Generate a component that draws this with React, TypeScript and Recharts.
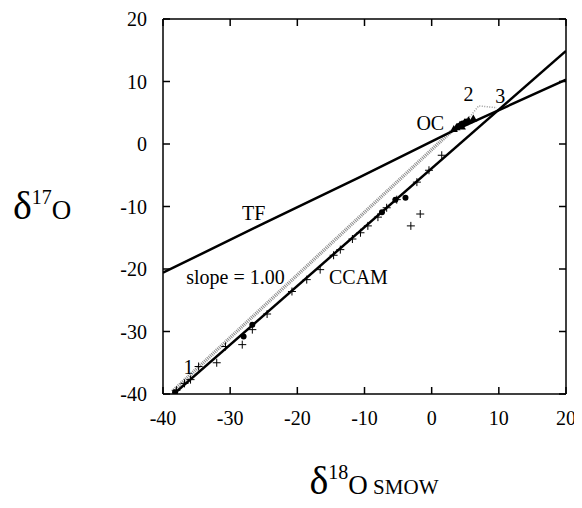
import React from 'react';
import {
  ScatterChart,
  Scatter,
  XAxis,
  YAxis,
} from 'recharts';

// axis ticks (both axes run -40..20)
const axisTicks = [-40, -30, -20, -10, 0, 10, 20];

// fitted lines
const tfLine = [
  { x: -40, y: -20.6 },
  { x: -25, y: -12.7 },
  { x: -10.7, y: -5.3 },
  { x: 2.8, y: 1.9 },
  { x: 20, y: 10.3 },
];
const ccamLine = [
  { x: -38.4, y: -40 },
  { x: 20, y: 14.9 },
];
const slopeOneLine = [
  { x: -38.6, y: -39.6 },
  { x: 3.0, y: 2.1 },
];
const dottedPath = [
  { x: 3.0, y: 2.1 },
  { x: 5.8, y: 4.5 },
  { x: 7.0, y: 6.1 },
  { x: 9.7, y: 5.8 },
];

// measured points
const plusPoints = [
  { x: -38.0, y: -39.4 },
  { x: -36.8, y: -38.3 },
  { x: -35.9, y: -37.7 },
  { x: -34.7, y: -35.6 },
  { x: -32.0, y: -35.0 },
  { x: -30.7, y: -32.4 },
  { x: -28.2, y: -32.1 },
  { x: -26.7, y: -29.7 },
  { x: -24.5, y: -27.2 },
  { x: -20.8, y: -23.6 },
  { x: -18.6, y: -21.7 },
  { x: -16.6, y: -20.1 },
  { x: -14.6, y: -17.8 },
  { x: -13.6, y: -16.9 },
  { x: -11.8, y: -15.2 },
  { x: -10.6, y: -14.2 },
  { x: -9.5, y: -13.1 },
  { x: -8.0, y: -11.7 },
  { x: -6.7, y: -10.2 },
  { x: -5.2, y: -8.9 },
  { x: -3.1, y: -13.1 },
  { x: -1.7, y: -11.2 },
  { x: -2.2, y: -6.1 },
  { x: -0.4, y: -4.2 },
  { x: 1.5, y: -1.8 },
];
const dotPoints = [
  { x: -38.2, y: -39.7 },
  { x: -28.0, y: -30.8 },
  { x: -26.7, y: -28.9 },
  { x: -7.4, y: -10.9 },
  { x: -5.4, y: -8.9 },
  { x: -3.9, y: -8.6 },
  { x: 4.0, y: 2.9 },
  { x: 4.6, y: 3.3 },
  { x: 5.2, y: 3.6 },
];
const trianglePoints = [
  { x: 3.3, y: 2.4 },
  { x: 3.7, y: 2.7 },
  { x: 4.2, y: 3.1 },
  { x: 4.5, y: 2.8 },
  { x: 4.9, y: 3.5 },
  { x: 5.5, y: 3.8 },
  { x: 6.2, y: 4.1 },
];

// text annotations placed in data space
const notes = [
  { x: -26.5, y: -11.0, text: 'TF' },
  { x: -29.2, y: -21.3, text: 'slope = 1.00' },
  { x: -10.9, y: -21.3, text: 'CCAM' },
  { x: -0.2, y: 3.4, text: 'OC' },
  { x: 5.5, y: 8.0, text: '2' },
  { x: 10.2, y: 7.7, text: '3' },
  { x: -36.2, y: -35.6, text: '1' },
];

const FONT = '"Liberation Serif", "Times New Roman", serif';
const TICK = 7;

const NoMark = () => <g />;

const PlusMark = (p: any) => (
  <path
    d={`M${p.cx - 4},${p.cy}h8M${p.cx},${p.cy - 4}v8`}
    stroke="#000"
    strokeWidth={1}
    fill="none"
  />
);

const DotMark = (p: any) => <circle cx={p.cx} cy={p.cy} r={3} fill="#000" />;

const TriMark = (p: any) => (
  <path
    d={`M${p.cx},${p.cy - 4}L${p.cx + 4},${p.cy + 3}L${p.cx - 4},${p.cy + 3}Z`}
    fill="#000"
  />
);

const NoteMark = (p: any) => (
  <text
    x={p.cx}
    y={p.cy}
    textAnchor="middle"
    dominantBaseline="central"
    fontFamily={FONT}
    fontSize={20}
    fill="#000"
  >
    {p.payload.text}
  </text>
);

// inward tick marks + labels
const BottomTick = (p: any) => {
  const axisY = p.y - 17;
  return (
    <g>
      <line x1={p.x} y1={axisY} x2={p.x} y2={axisY - TICK} stroke="#000" strokeWidth={1.5} />
      <text x={p.x} y={p.y} dy="0.72em" textAnchor="middle" fontFamily={FONT} fontSize={20} fill="#000">
        {p.payload.value}
      </text>
    </g>
  );
};

const LeftTick = (p: any) => {
  const axisX = p.x + 16;
  return (
    <g>
      <line x1={axisX} y1={p.y} x2={axisX + TICK} y2={p.y} stroke="#000" strokeWidth={1.5} />
      <text x={p.x} y={p.y} dy="0.35em" textAnchor="end" fontFamily={FONT} fontSize={20} fill="#000">
        {p.payload.value}
      </text>
    </g>
  );
};

const TopTick = (p: any) => (
  <line x1={p.x} y1={p.y} x2={p.x} y2={p.y + TICK} stroke="#000" strokeWidth={1.5} />
);

const RightTick = (p: any) => (
  <line x1={p.x} y1={p.y} x2={p.x - TICK} y2={p.y} stroke="#000" strokeWidth={1.5} />
);

const YTitle = (props: any) => {
  const vb = props.viewBox;
  return (
    <text x={vb.x + 5} y={vb.y + vb.height / 2 + 12} fontFamily={FONT} fill="#000">
      <tspan fontSize={40}>δ</tspan>
      <tspan fontSize={20} dy={-15}>17</tspan>
      <tspan fontSize={27} dy={15}>O</tspan>
    </text>
  );
};

const XTitle = (props: any) => {
  const vb = props.viewBox;
  return (
    <text x={vb.x + vb.width / 2 - 55} y={vb.y + 100} fontFamily={FONT} fill="#000">
      <tspan fontSize={40}>δ</tspan>
      <tspan fontSize={20} dy={-15}>18</tspan>
      <tspan fontSize={27} dy={15}>O</tspan>
      <tspan fontSize={21}> SMOW</tspan>
    </text>
  );
};

const lineStyle = { stroke: '#000', strokeWidth: 1.5 };

export default function App() {
  return (
    <div style={{ width: 566, height: 500, background: '#fff' }}>
      <ScatterChart
        width={566}
        height={500}
        margin={{ top: 10, right: 7, bottom: 74, left: 0 }}
      >
        <XAxis
          type="number"
          dataKey="x"
          domain={[-40, 20]}
          ticks={axisTicks}
          allowDataOverflow
          height={40}
          tickSize={0}
          tickMargin={17}
          tickLine={false}
          tick={BottomTick}
          axisLine={lineStyle}
          label={{ content: (p: any) => <XTitle {...p} /> }}
        />
        <XAxis
          xAxisId="top"
          orientation="top"
          type="number"
          dataKey="x"
          domain={[-40, 20]}
          ticks={axisTicks}
          allowDataOverflow
          height={1}
          tickSize={0}
          tickMargin={0}
          tickLine={false}
          tick={TopTick}
          axisLine={lineStyle}
        />
        <YAxis
          type="number"
          dataKey="y"
          domain={[-40, 20]}
          ticks={axisTicks}
          allowDataOverflow
          width={155}
          tickSize={0}
          tickMargin={16}
          tickLine={false}
          tick={LeftTick}
          axisLine={lineStyle}
          label={{ content: (p: any) => <YTitle {...p} /> }}
        />
        <YAxis
          yAxisId="right"
          orientation="right"
          type="number"
          dataKey="y"
          domain={[-40, 20]}
          ticks={axisTicks}
          allowDataOverflow
          width={1}
          tickSize={0}
          tickMargin={0}
          tickLine={false}
          tick={RightTick}
          axisLine={lineStyle}
        />

        <Scatter
          data={slopeOneLine}
          line={{ stroke: '#8c8c8c', strokeWidth: 3.5, strokeDasharray: '1 1' }}
          shape={NoMark}
          isAnimationActive={false}
        />
        <Scatter
          data={dottedPath}
          line={{ stroke: '#999', strokeWidth: 1.5, strokeDasharray: '1 1.5' }}
          shape={NoMark}
          isAnimationActive={false}
        />
        <Scatter
          data={tfLine}
          line={{ stroke: '#000', strokeWidth: 2.5 }}
          shape={NoMark}
          isAnimationActive={false}
        />
        <Scatter
          data={ccamLine}
          line={{ stroke: '#000', strokeWidth: 2.5 }}
          shape={NoMark}
          isAnimationActive={false}
        />
        <Scatter data={plusPoints} shape={PlusMark} isAnimationActive={false} />
        <Scatter data={dotPoints} shape={DotMark} isAnimationActive={false} />
        <Scatter data={trianglePoints} shape={TriMark} isAnimationActive={false} />
        <Scatter data={notes} shape={NoteMark} isAnimationActive={false} />
      </ScatterChart>
    </div>
  );
}
